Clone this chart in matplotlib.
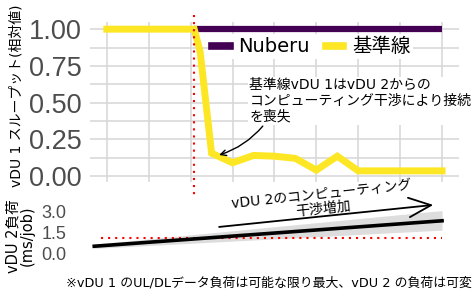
import matplotlib
matplotlib.use("Agg")
import matplotlib.pyplot as plt
from matplotlib.lines import Line2D
from matplotlib.transforms import blended_transform_factory
import numpy as np

plt.rcParams['font.family'] = ['DejaVu Sans', 'Noto Sans CJK JP']

# ---- data ----
base_x = [0, 4.17, 4.45, 5.0, 6, 7, 8, 9, 10, 11, 12, 16]
base_y = [1.0, 1.0, 0.85, 0.155, 0.09, 0.14, 0.135, 0.12, 0.04, 0.135, 0.035, 0.035]
nub_x = [4.17, 16]
nub_y = [1.0, 1.0]
event_x = 4.17

load_x = [-0.6, 16]
load_y = [0.55, 2.37]
band_lo = [0.40, 1.70]
band_hi = [0.70, 3.10]
load_ref = 1.15
load_ref_x = [-0.3, 16]

yticks_top = [0.0, 0.25, 0.5, 0.75, 1.0]
ytick_labels_top = ["0.00", "0.25", "0.50", "0.75", "1.00"]
yticks_bot = [0.0, 1.5, 3.0]
ytick_labels_bot = ["0.0", "1.5", "3.0"]

label_nub = "Nuberu"
label_base = "基準線"
ann_top = "基準線vDU 1はvDU 2からの\nコンピューティング干渉により接続\nを喪失"
ann_bot = "vDU 2のコンピューティング\n干渉増加"
ylabel_top = "vDU 1 スループット(相対値)"
ylabel_bot = "vDU 2負荷\n(ms/job)"
footnote = "※vDU 1 のUL/DLデータ負荷は可能な限り最大、vDU 2 の負荷は可変"

PURPLE = "#440154"
YELLOW = "#FDE725"
RED = "#FF0000"
TICKFONT = ['Liberation Sans', 'DejaVu Sans']

fig = plt.figure(figsize=(4.74, 2.95), dpi=100)
ax = fig.add_axes([0.190, 0.383, 0.778, 0.542])
ax2 = fig.add_axes([0.190, 0.095, 0.778, 0.234])

# ---- top panel ----
ax.set_xlim(-0.8, 16.8)
ax.set_ylim(-0.041, 1.048)
for s in ax.spines.values():
    s.set_visible(False)
ax.set_xticks(np.arange(0, 17, 2))
ax.set_yticks(yticks_top)
ax.set_yticks([0.125, 0.375, 0.625, 0.875], minor=True)
ax.set_yticklabels(ytick_labels_top, fontfamily=TICKFONT)
ax.tick_params(axis='x', which='both', length=0, labelbottom=False)
ax.tick_params(axis='y', which='both', length=0, labelsize=19.5, colors='#4D4D4D', pad=6)
ax.grid(True, which='both', color='#D6D6D6', lw=1.1)
ax.set_axisbelow(True)

ax.plot(nub_x, nub_y, color=PURPLE, lw=4.5, solid_capstyle='butt', zorder=3)
ax.plot(base_x, base_y, color=YELLOW, lw=5, solid_joinstyle='miter', zorder=3)

handles = [Line2D([], [], color=PURPLE, lw=5.5), Line2D([], [], color=YELLOW, lw=5.5)]
leg = ax.legend(handles, [label_nub, label_base], ncol=2, loc='center',
                bbox_to_anchor=(0.60, 0.845), frameon=True, fontsize=14,
                handlelength=0.9, handletextpad=0.45, columnspacing=0.8,
                borderpad=0.15, borderaxespad=0)
leg.get_frame().set_facecolor('white')
leg.get_frame().set_edgecolor('none')
leg.get_frame().set_alpha(1)

ax.annotate(ann_top, xy=(5.36, 0.143), xytext=(6.8, 0.665),
            fontsize=10, ha='left', va='top', linespacing=1.15,
            bbox=dict(facecolor='white', edgecolor='none', pad=1),
            arrowprops=dict(arrowstyle='->', color='black', lw=1,
                            connectionstyle='arc3,rad=-0.15',
                            shrinkA=1, shrinkB=0,
                            relpos=(0.07, 0.0)), zorder=5)

ax.set_ylabel(ylabel_top, fontsize=10, labelpad=2)
ax.yaxis.set_label_coords(-0.18, 0.54)

# red vertical line through both panels
tr = blended_transform_factory(ax.transData, fig.transFigure)
ax.plot([event_x, event_x], [1 - 15 / 295, 1 - 267 / 295], transform=tr,
        color=RED, lw=1.5, ls=(0, (1, 2.4)), clip_on=False, zorder=4)

# ---- bottom panel ----
ax2.set_xlim(-0.8, 16.8)
ax2.set_ylim(-0.93, 4.0)
for s in ax2.spines.values():
    s.set_visible(False)
ax2.set_xticks([])
ax2.set_yticks(yticks_bot)
ax2.set_yticklabels(ytick_labels_bot, fontfamily=TICKFONT)
ax2.tick_params(axis='y', length=0, labelsize=13, colors='#4D4D4D', pad=17)

ax2.fill_between(load_x, band_lo, band_hi, color='#DDDDDD', lw=0)
ax2.plot(load_ref_x, [load_ref, load_ref], color=RED, lw=1.5, ls=(0, (1, 2.4)))
ax2.plot(load_x, load_y, color='black', lw=2.6)

ax2.annotate("", xy=(15.58, 3.5), xytext=(5.36, 1.93),
             arrowprops=dict(arrowstyle='->,head_length=1.6,head_width=0.7',
                             color='black', lw=1.3, shrinkA=0, shrinkB=0),
             annotation_clip=False)
ax2.text(10.28, 3.72, ann_bot, fontsize=10, ha='center', va='center',
         rotation=6, linespacing=1.0, clip_on=False)

ax2.set_ylabel(ylabel_bot, fontsize=10.5, linespacing=0.95)
ax2.yaxis.set_label_coords(-0.15, 0.45)

fig.text(472 / 474, 1 - 283 / 295, footnote, fontsize=9.3, ha='right', va='center')

fig.savefig("out.png", dpi=100)
